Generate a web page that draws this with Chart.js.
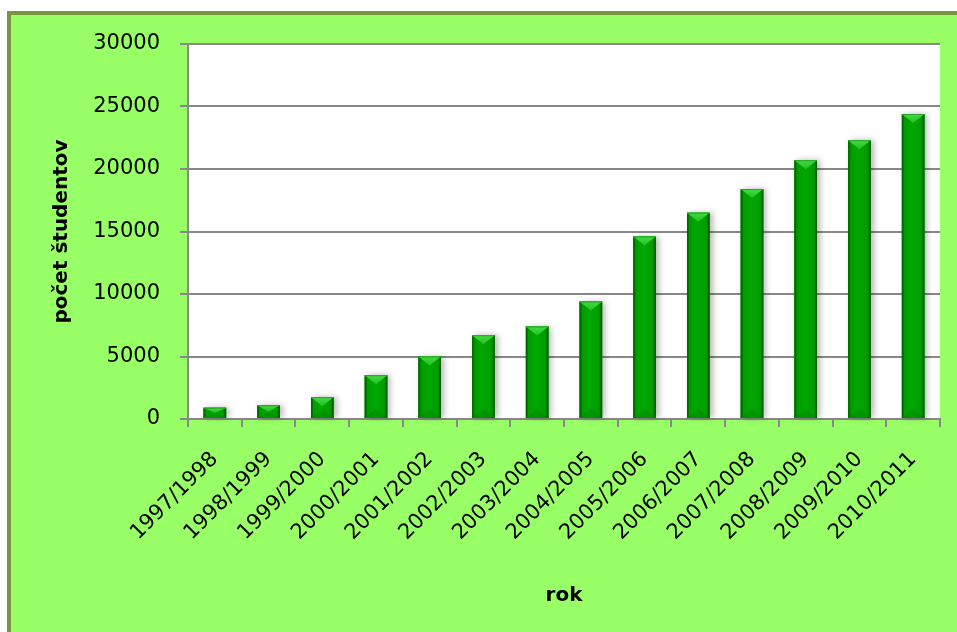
<!DOCTYPE html>
<html>
<head>
<meta charset="utf-8">
<script src="https://cdn.jsdelivr.net/npm/chart.js@4/dist/chart.umd.min.js"></script>
<style>
  html, body { margin: 0; padding: 0; background: #ffffff; }
  #frame {
    position: absolute; left: 7px; top: 11px; width: 960px; height: 640px;
    background: #99ff66; border-top: 4px solid #7a9440; border-left: 4px solid #7a9440;
  }
  #wrap { position: absolute; left: 0; top: 0; width: 957px; height: 632px; }
</style>
</head>
<body>
<div id="frame"></div>
<div id="wrap"><canvas id="chart"></canvas></div>
<script>
const years = [
  "1997/1998", "1998/1999", "1999/2000", "2000/2001", "2001/2002", "2002/2003", "2003/2004",
  "2004/2005", "2005/2006", "2006/2007", "2007/2008", "2008/2009", "2009/2010", "2010/2011",
];
const students = [900, 1100, 1750, 3500, 5000, 6700, 7400, 9400, 14600, 16500, 18400, 20700, 22300, 24400];
const yTicks = [0, 5000, 10000, 15000, 20000, 25000, 30000];

const GRID = "#888888";

// white plot area on the green page
const plotBackground = {
  id: "plotBackground",
  beforeDraw(chart) {
    const { ctx, chartArea } = chart;
    ctx.save();
    ctx.fillStyle = "#ffffff";
    ctx.fillRect(chartArea.left, chartArea.top, chartArea.right - chartArea.left, chartArea.bottom - chartArea.top);
    ctx.restore();
  },
};

// pillow-like bevel on top of the plain bars, using the bar geometry from chart.js
const bevelBars = {
  id: "bevelBars",
  beforeDatasetsDraw(chart) {
    const ctx = chart.ctx;
    for (const bar of chart.getDatasetMeta(0).data) {
      const { x, y, base, width } = bar.getProps(["x", "y", "base", "width"], true);
      ctx.save();
      ctx.shadowColor = "rgba(0,0,0,0.28)";
      ctx.shadowBlur = 6;
      ctx.shadowOffsetX = 3;
      ctx.shadowOffsetY = 0;
      ctx.fillStyle = "#009c00";
      ctx.fillRect(x - width / 2, y, width, base - y);
      ctx.restore();
    }
  },
  afterDatasetsDraw(chart) {
    const ctx = chart.ctx;
    for (const bar of chart.getDatasetMeta(0).data) {
      const { x, y, base, width } = bar.getProps(["x", "y", "base", "width"], true);
      const l = x - width / 2;
      const r = x + width / 2;
      const h = base - y;
      const b = Math.min(9, h / 2);
      const s = Math.min(2, h / 3);

      const grad = ctx.createLinearGradient(l, 0, r, 0);
      grad.addColorStop(0, "#007800");
      grad.addColorStop(0.12, "#009c00");
      grad.addColorStop(0.45, "#00a800");
      grad.addColorStop(0.85, "#009c00");
      grad.addColorStop(1, "#007000");
      ctx.fillStyle = grad;
      ctx.fillRect(l, y, width, h);

      // side bevels
      ctx.fillStyle = "rgba(0,60,0,0.3)";
      ctx.beginPath();
      ctx.moveTo(l, y); ctx.lineTo(l + s, y + s); ctx.lineTo(l + s, base - s); ctx.lineTo(l, base);
      ctx.closePath(); ctx.fill();
      ctx.beginPath();
      ctx.moveTo(r, y); ctx.lineTo(r - s, y + s); ctx.lineTo(r - s, base - s); ctx.lineTo(r, base);
      ctx.closePath(); ctx.fill();

      // bottom bevel
      ctx.fillStyle = "rgba(0,70,0,0.15)";
      ctx.beginPath();
      ctx.moveTo(l, base); ctx.lineTo(r, base); ctx.lineTo(x, base - b);
      ctx.closePath(); ctx.fill();

      // top bevel
      const top = ctx.createLinearGradient(0, y, 0, y + b);
      top.addColorStop(0, "#44dc44");
      top.addColorStop(1, "#20c020");
      ctx.fillStyle = top;
      ctx.beginPath();
      ctx.moveTo(l, y); ctx.lineTo(r, y); ctx.lineTo(x, y + b);
      ctx.closePath(); ctx.fill();

      ctx.strokeStyle = "#2aa02a";
      ctx.lineWidth = 1;
      ctx.beginPath();
      ctx.moveTo(l, y + 0.5); ctx.lineTo(r, y + 0.5);
      ctx.stroke();
    }
  },
};

new Chart(document.getElementById("chart"), {
  type: "bar",
  data: {
    labels: years,
    datasets: [
      {
        label: "počet študentov",
        data: students,
        backgroundColor: "#009c00",
        categoryPercentage: 1,
        barPercentage: 0.42,
      },
    ],
  },
  options: {
    responsive: true,
    maintainAspectRatio: false,
    animation: false,
    layout: { padding: { left: 40, top: 44, right: 17, bottom: 12 } },
    plugins: { legend: { display: false }, tooltip: { enabled: false } },
    scales: {
      x: {
        offset: true,
        grid: { offset: true, drawOnChartArea: false, drawTicks: true, tickLength: 8, color: GRID, lineWidth: 2 },
        border: { color: GRID, width: 2 },
        ticks: {
          color: "#000",
          font: { family: "DejaVu Sans", size: 21 },
          minRotation: 45,
          maxRotation: 45,
          padding: 20,
          autoSkip: false,
        },
        title: {
          display: true,
          text: "rok",
          color: "#000",
          font: { family: "DejaVu Sans", size: 20, weight: "bold" },
          padding: { top: 0, bottom: 12 },
        },
        afterFit(scale) { scale.height = 632 - 12 - 419; },
      },
      y: {
        min: 0,
        max: 30000,
        afterBuildTicks(scale) { scale.ticks = yTicks.map((v) => ({ value: v })); },
        grid: { color: GRID, lineWidth: 2, tickLength: 8 },
        border: { color: GRID, width: 2 },
        ticks: {
          color: "#000",
          font: { family: "DejaVu Sans", size: 21 },
          padding: 20,
          callback: (value) => String(value),
        },
        title: {
          display: true,
          text: "počet študentov",
          color: "#000",
          font: { family: "DejaVu Sans", size: 20, weight: "bold" },
          padding: { top: 10, bottom: 0 },
        },
        afterFit(scale) { scale.width = 148; },
      },
    },
  },
  plugins: [plotBackground, bevelBars],
});
</script>
</body>
</html>
